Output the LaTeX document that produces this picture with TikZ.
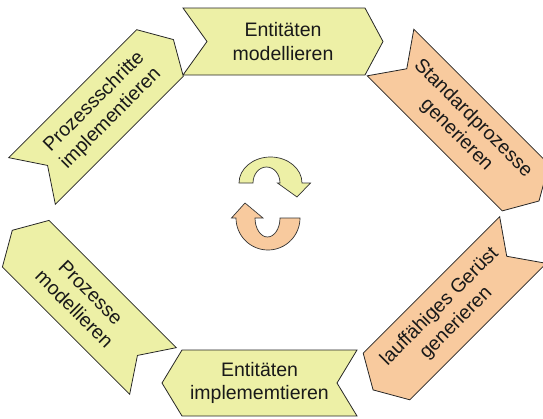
\documentclass[tikz,border=0pt]{standalone}
\usepackage{fontspec}
\setmainfont{Liberation Sans}
\definecolor{chyel}{RGB}{237,240,166}
\definecolor{chora}{RGB}{248,202,158}
\tikzset{
  chevbox/.style={draw=black!85, line width=0.8pt, line join=miter},
  lbl/.style={align=center, font=\fontsize{19.5}{23.3}\selectfont, inner sep=0pt, text=black!90},
  ringarrow/.style={draw=black!80, line width=0.7pt, line join=miter}
}
% #1 cx, #2 cy (tail centre), #3 angle (clockwise, image), #4 length, #5 half height, #6 notch depth, #7 tip depth, #8 fill
\newcommand\drawchev[8]{%
  \draw[chevbox, fill=#8]
    ({#1-(#5)*sin(#3)}, {#2+(#5)*cos(#3)}) --
    ({#1+(#6)*cos(#3)}, {#2+(#6)*sin(#3)}) --
    ({#1+(#5)*sin(#3)}, {#2-(#5)*cos(#3)}) --
    ({#1+(#4-#7)*cos(#3)+(#5)*sin(#3)}, {#2+(#4-#7)*sin(#3)-(#5)*cos(#3)}) --
    ({#1+(#4)*cos(#3)}, {#2+(#4)*sin(#3)}) --
    ({#1+(#4-#7)*cos(#3)-(#5)*sin(#3)}, {#2+(#4-#7)*sin(#3)+(#5)*cos(#3)}) -- cycle;
}
\begin{document}
\begin{tikzpicture}[x=1pt,y=-1pt]
\useasboundingbox (0,0) rectangle (543,418);

% chevrons
\drawchev{183}{41.5}{0}{200}{33.5}{24}{18}{chyel}
\drawchev{390.5}{52.5}{45}{210}{33}{23}{19}{chora}
\drawchev{523}{240}{135}{212}{33}{23}{19}{chora}
\drawchev{357}{383}{180}{195}{33}{20}{20}{chyel}
\drawchev{153}{371}{225}{199}{33}{22}{19}{chyel}
\drawchev{32}{181}{315}{200}{33}{22}{19}{chyel}

% labels
\node[lbl] (em) at (283,41.5) {Entitäten\\modellieren};
\node[lbl, rotate=-45] (sg) at (464.7,126.7) {Standardprozesse\\generieren};
\node[lbl, rotate=45] (lg) at (448,315) {lauffähiges Gerüst\\generieren};
\node[lbl] (ei) at (259.5,383) {Entitäten\\implememtieren};
\node[lbl, rotate=-45] (pm) at (82.6,300.6) {Prozesse\\modellieren};
\node[lbl, rotate=45] (pi) at (102.7,110.3) {Prozessschritte\\implementieren};

% central circular arrows
\draw[ringarrow, fill=chyel]
  (239,183) arc[start angle=180, end angle=360, x radius=31.5, y radius=26]
  -- (310.5,183) -- (297,197) -- (277.5,183) -- (280,183)
  arc[start angle=0, end angle=-180, x radius=13.5, y radius=16] -- cycle;
\draw[ringarrow, fill=chora]
  (300,218) arc[start angle=0, end angle=180, x radius=32, y radius=32]
  -- (231.5,218) -- (245,203) -- (263,218) -- (255,218)
  arc[start angle=180, end angle=0, x radius=12.5, y radius=19] -- cycle;
\end{tikzpicture}
\end{document}
